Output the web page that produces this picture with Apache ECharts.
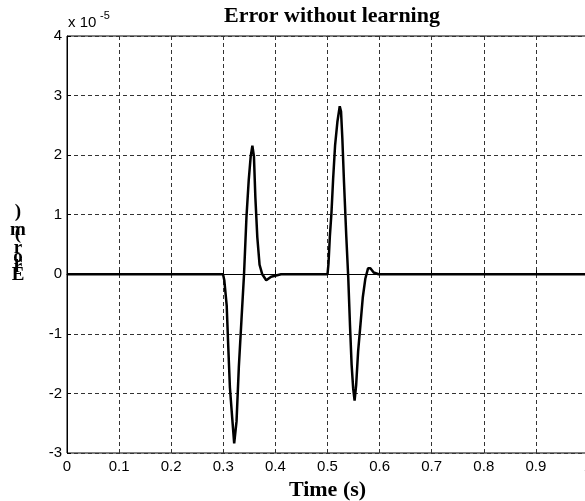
<!DOCTYPE html>
<html>
<head>
<meta charset="utf-8">
<script src="https://cdn.jsdelivr.net/npm/echarts@6/dist/echarts.min.js"></script>
<style>
  html, body { margin: 0; padding: 0; background: #fff; }
  #chart { width: 585px; height: 501px; }
</style>
</head>
<body>
<div id="chart"></div>
<script>
// Tracking error of the stage, values in units of 1e-5 m (see the "x 10^-5" multiplier)
const timeS = [
  0, 0.2995, 0.3019, 0.3065, 0.3095, 0.3127, 0.3171, 0.3209, 0.3254, 0.3298,
  0.3349, 0.3398, 0.3444, 0.3488, 0.3526, 0.3558, 0.3588, 0.3615, 0.3653, 0.3696,
  0.3748, 0.3824, 0.3918, 0.4108, 0.5000, 0.5019, 0.5045, 0.5076, 0.5108, 0.5146,
  0.5190, 0.5235, 0.5260, 0.5285, 0.5317, 0.5361, 0.5398, 0.5431, 0.5463, 0.5493,
  0.5520, 0.5550, 0.5588, 0.5633, 0.5677, 0.5727, 0.5778, 0.5823, 0.5886, 0.5981,
  1.0
];
const errorE5 = [
  0, 0, -0.10, -0.52, -1.21, -1.90, -2.41, -2.84, -2.47, -1.56,
  -0.76, 0.00, 0.95, 1.58, 1.98, 2.16, 1.98, 1.30, 0.62, 0.16,
  0.00, -0.10, -0.04, 0.00, 0.00, 0.18, 0.63, 1.03, 1.60, 2.17,
  2.56, 2.82, 2.73, 2.28, 1.54, 0.63, -0.05, -0.84, -1.52, -1.92,
  -2.12, -1.86, -1.29, -0.84, -0.39, -0.07, 0.10, 0.10, 0.03, 0.00,
  0
];
const xTickLabels = ['0', '0.1', '0.2', '0.3', '0.4', '0.5', '0.6', '0.7', '0.8', '0.9', '1'];
const yTickLabels = ['-3', '-2', '-1', '0', '1', '2', '3', '4'];
const titleText = 'Error without learning';
const xLabelText = 'Time (s)';
// the y label is drawn one upright glyph at a time, stacked bottom-up
const yLabelChars = ['E', 'r', 'r', 'o', 'r', '(', 'm', ')'];
const yLabelOffsets = [275, 267, 263, 257, 248, 234, 230, 212];

const SANS = '"Liberation Sans", Arial, sans-serif';
const SERIF = '"Liberation Serif", "Times New Roman", serif';

const points = timeS.map((t, i) => [t, errorE5[i]]);

const chart = echarts.init(document.getElementById('chart'), null, { renderer: 'canvas' });

const yLabelGraphics = yLabelChars.map((ch, i) => ({
  type: 'text',
  x: 18,
  y: yLabelOffsets[i],
  style: {
    text: ch,
    font: 'bold 19px ' + SERIF,
    fill: '#000',
    align: 'center',
    verticalAlign: 'middle'
  }
}));

chart.setOption({
  animation: false,
  backgroundColor: '#fff',
  title: {
    text: titleText,
    left: 327,
    top: 0,
    textAlign: 'center',
    textStyle: { fontFamily: SERIF, fontWeight: 'bold', fontSize: 22, color: '#000' }
  },
  grid: {
    left: 67, top: 36, width: 521, height: 417,
    outerBoundsMode: 'none',
    containLabel: false,
    show: true, borderColor: '#000', borderWidth: 1, backgroundColor: 'transparent'
  },
  xAxis: {
    type: 'value', min: 0, max: 1, interval: 0.1,
    name: xLabelText, nameLocation: 'middle', nameGap: 26,
    nameTextStyle: { fontFamily: SERIF, fontWeight: 'bold', fontSize: 22, color: '#000', verticalAlign: 'top' },
    axisLine: { show: true, lineStyle: { color: '#000', width: 1 } },
    axisTick: { show: true, inside: true, length: 4, lineStyle: { color: '#000' } },
    axisLabel: {
      margin: 6, fontFamily: SANS, fontSize: 15, color: '#000',
      formatter: v => xTickLabels[Math.round(v * 10)]
    },
    splitLine: { show: true, lineStyle: { color: '#333', width: 1, type: [4, 3] } }
  },
  yAxis: {
    type: 'value', min: -3, max: 4, interval: 1,
    axisLine: { show: true, lineStyle: { color: '#000', width: 1 } },
    axisTick: { show: true, inside: true, length: 4, lineStyle: { color: '#000' } },
    axisLabel: {
      margin: 5, fontFamily: SANS, fontSize: 15, color: '#000',
      formatter: v => yTickLabels[Math.round(v) + 3]
    },
    splitLine: { show: true, lineStyle: { color: '#333', width: 1, type: [4, 3] } }
  },
  graphic: [
    {
      type: 'text', left: 68, top: 15,
      style: { text: 'x 10', font: '15px ' + SANS, fill: '#000' }
    },
    {
      type: 'text', left: 100, top: 10,
      style: { text: '-5', font: '11px ' + SANS, fill: '#000' }
    }
  ].concat(yLabelGraphics),
  series: [{
    type: 'line',
    data: points,
    showSymbol: false,
    smooth: false,
    lineStyle: { color: '#000', width: 2.5 },
    z: 5
  }]
});
</script>
</body>
</html>
